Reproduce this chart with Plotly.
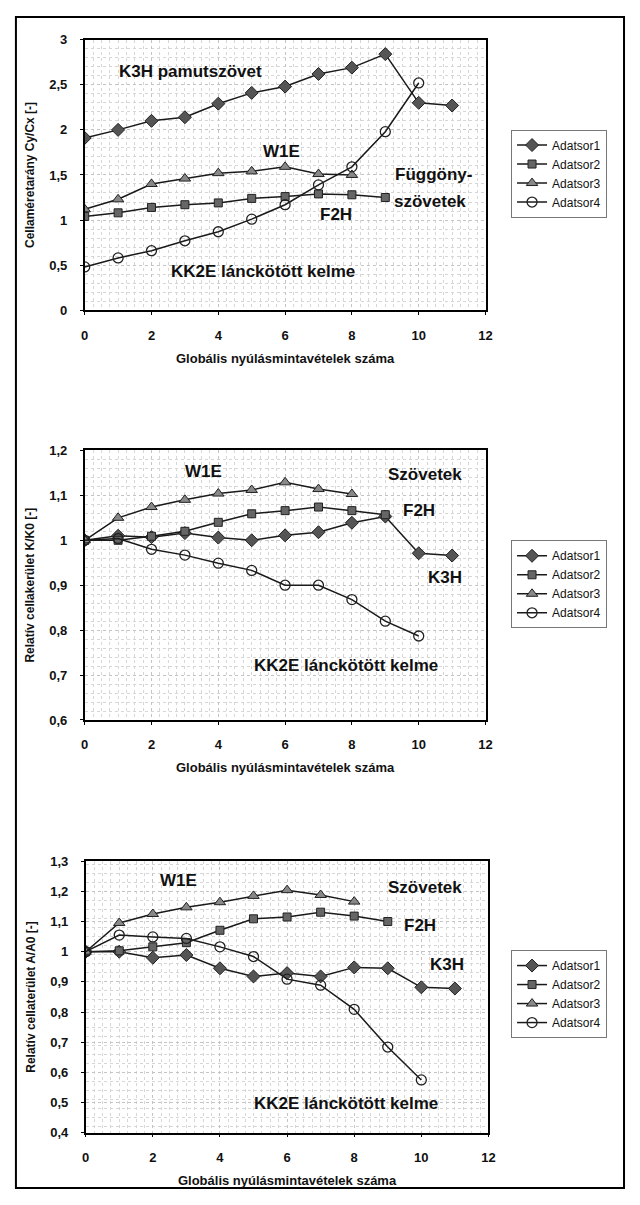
import plotly.graph_objects as go

x_steps = list(range(12))

# Chart 1: Cellaméretarány Cy/Cx
c1_s1 = [1.91, 2.00, 2.10, 2.14, 2.29, 2.41, 2.48, 2.62, 2.69, 2.84, 2.30, 2.27]
c1_s2 = [1.04, 1.08, 1.14, 1.17, 1.19, 1.24, 1.26, 1.29, 1.28, 1.25]
c1_s3 = [1.12, 1.23, 1.40, 1.46, 1.52, 1.54, 1.59, 1.51, 1.50]
c1_s4 = [0.48, 0.58, 0.66, 0.77, 0.87, 1.01, 1.17, 1.39, 1.59, 1.98, 2.52]

# Chart 2: Relatív cellakerület K/K0
c2_s1 = [1.0, 1.01, 1.007, 1.016, 1.006, 1.0, 1.011, 1.018, 1.039, 1.053, 0.971, 0.966]
c2_s2 = [1.0, 1.0, 1.009, 1.02, 1.04, 1.059, 1.066, 1.074, 1.066, 1.057]
c2_s3 = [1.0, 1.05, 1.074, 1.09, 1.104, 1.112, 1.129, 1.114, 1.103]
c2_s4 = [1.0, 1.004, 0.98, 0.967, 0.949, 0.933, 0.90, 0.90, 0.868, 0.82, 0.787]

# Chart 3: Relatív cellaterület A/A0
c3_s1 = [1.0, 1.0, 0.98, 0.989, 0.945, 0.918, 0.929, 0.918, 0.948, 0.945, 0.882, 0.878]
c3_s2 = [1.0, 1.003, 1.016, 1.03, 1.071, 1.109, 1.115, 1.131, 1.118, 1.10]
c3_s3 = [1.0, 1.095, 1.125, 1.147, 1.164, 1.185, 1.204, 1.188, 1.166]
c3_s4 = [1.0, 1.055, 1.049, 1.044, 1.016, 0.984, 0.909, 0.889, 0.809, 0.684, 0.575]

series_names = ["Adatsor1", "Adatsor2", "Adatsor3", "Adatsor4"]
x_title = "Globális nyúlásmintavételek száma"
y_titles = ["Cellaméretarány Cy/Cx [-]", "Relatív cellakerület K/K0 [-]", "Relatív cellaterület A/A0 [-]"]

# page body has an 8px margin on every side; keep the page exactly 640x1205
OFF = 8
W, H = 640 - 2 * OFF, 1205 - 2 * OFF
FONT = "Liberation Sans, Arial, sans-serif"

def px_x(p):
    return (p - OFF) / W

def px_y(p):
    return 1 - (p - OFF) / H

markers = [
    dict(symbol="diamond", size=10, color="#555555", line=dict(color="#222222", width=1)),
    dict(symbol="square", size=8, color="#666666", line=dict(color="#222222", width=1)),
    dict(symbol="triangle-up", size=10, color="#888888", line=dict(color="#222222", width=1)),
    dict(symbol="circle-open", size=10, color="#222222", line=dict(color="#222222", width=1.3)),
]

charts = [
    dict(data=[c1_s1, c1_s2, c1_s3, c1_s4], xdom=(82, 490), ydom=(33, 307), yr=(0, 3), ydt=0.5, ymin=0.1, leg=(516, 124)),
    dict(data=[c2_s1, c2_s2, c2_s3, c2_s4], xdom=(82, 490), ydom=(449, 722), yr=(0.6, 1.2), ydt=0.1, ymin=0.02, leg=(516, 540)),
    dict(data=[c3_s1, c3_s2, c3_s3, c3_s4], xdom=(83, 493), ydom=(865, 1140), yr=(0.4, 1.3), ydt=0.1, ymin=0.03, leg=(516, 955)),
]

fig = go.Figure()
layout = dict(
    width=W, height=H, margin=dict(l=0, r=0, t=0, b=0),
    paper_bgcolor="white", plot_bgcolor="white",
    separators=",.", showlegend=True,
    font=dict(family=FONT, color="#111111"),
)

for i, ch in enumerate(charts):
    xa = "x" if i == 0 else f"x{i+1}"
    ya = "y" if i == 0 else f"y{i+1}"
    lg = "legend" if i == 0 else f"legend{i+1}"
    for j, vals in enumerate(ch["data"]):
        fig.add_trace(go.Scatter(
            x=x_steps[:len(vals)], y=vals, mode="lines+markers",
            name=series_names[j], line=dict(color="#1a1a1a", width=1.5),
            marker=markers[j], xaxis=xa, yaxis=ya, legend=lg,
        ))
    axis_common = dict(showline=True, linecolor="black", linewidth=1.5, mirror=True,
                       ticks="outside", ticklen=3, tickcolor="black", zeroline=False,
                       tickfont=dict(family=FONT, size=13, color="#111111", weight="bold"))
    layout["xaxis" if i == 0 else f"xaxis{i+1}"] = dict(
        domain=[px_x(ch["xdom"][0]), px_x(ch["xdom"][1])], anchor=ya,
        range=[0, 12], dtick=2, tick0=0, ticklabelstandoff=9,
        showgrid=True, gridcolor="#c4c4c4", griddash="dot", gridwidth=1,
        minor=dict(dtick=0.25, showgrid=True, gridcolor="#d6d6d6", griddash="dot", gridwidth=1),
        title=dict(text=x_title, font=dict(family=FONT, size=13, weight="bold"), standoff=12),
        **axis_common,
    )
    layout["yaxis" if i == 0 else f"yaxis{i+1}"] = dict(
        domain=[px_y(ch["ydom"][1]), px_y(ch["ydom"][0])], anchor=xa,
        range=list(ch["yr"]), dtick=ch["ydt"], tick0=ch["yr"][0], ticklabelstandoff=10,
        showgrid=True, gridcolor="#c4c4c4", griddash="dot", gridwidth=1,
        minor=dict(dtick=ch["ymin"], showgrid=True, gridcolor="#d6d6d6", griddash="dot", gridwidth=1),
        title=dict(text=y_titles[i], font=dict(family=FONT, size=12, weight="bold"), standoff=12),
        **axis_common,
    )
    layout[lg] = dict(
        x=px_x(ch["leg"][0]), y=px_y(ch["leg"][1]), xanchor="left", yanchor="top",
        bgcolor="white", bordercolor="#777777", borderwidth=1,
        font=dict(family=FONT, size=12, color="#111111"),
        itemwidth=30, tracegroupgap=0,
    )

# annotations: (text, x px, y px)
labels = [
    ("K3H pamutszövet", 190, 65),
    ("W1E", 282, 146),
    ("Függöny-", 437, 170),
    ("szövetek", 433, 197),
    ("F2H", 338, 210),
    ("KK2E lánckötött kelme", 264, 268),
    ("W1E", 203, 470),
    ("Szövetek", 428, 473),
    ("F2H", 422, 510),
    ("K3H", 449, 578),
    ("KK2E lánckötött kelme", 348, 667),
    ("W1E", 177, 885),
    ("Szövetek", 428, 892),
    ("F2H", 423, 930),
    ("K3H", 451, 970),
    ("KK2E lánckötött kelme", 348, 1110),
]
anns = []
for txt, ax, ay in labels:
    anns.append(dict(text=txt, x=px_x(ax), y=px_y(ay), xref="paper", yref="paper",
                     showarrow=False, xanchor="center", yanchor="middle",
                     font=dict(family=FONT, size=17, color="#111111", weight="bold")))
layout["annotations"] = anns
layout["shapes"] = [dict(type="rect", xref="paper", yref="paper",
                         x0=px_x(12), x1=px_x(631), y0=px_y(1196), y1=px_y(10),
                         line=dict(color="black", width=2))]

fig.update_layout(**layout)
fig.write_html("out.html")
